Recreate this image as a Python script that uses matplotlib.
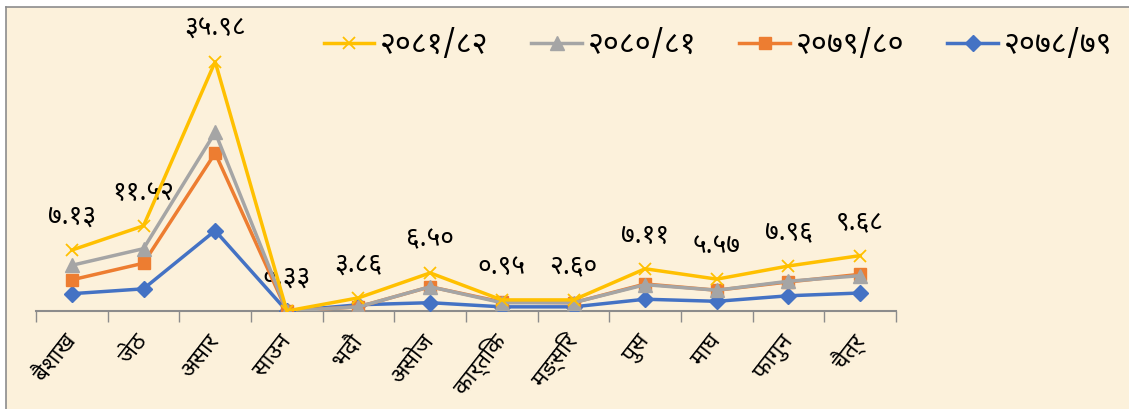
import matplotlib.pyplot as plt
from matplotlib.lines import Line2D

months = ['बैशाख', 'जेठ', 'असार', 'साउन', 'भदौ', 'असोज', 'कार्तिक',
          'मङ्सिर', 'पुस', 'माघ', 'फागुन', 'चैत्र']

# values (hidden y axis)
fy_8182 = [8.8, 12.3, 36.0, 0.0, 1.9, 5.5, 1.6, 1.6, 6.1, 4.6, 6.5, 8.0]
fy_8081 = [6.6, 9.0, 25.8, 0.0, 0.6, 3.5, 1.2, 1.2, 3.8, 3.0, 4.3, 5.1]
fy_7980 = [4.5, 6.9, 22.8, 0.0, 0.6, 3.5, 1.3, 1.2, 3.9, 3.0, 4.2, 5.3]
fy_7879 = [2.5, 3.2, 11.6, 0.0, 0.9, 1.2, 0.6, 0.6, 1.7, 1.4, 2.2, 2.6]

labels_8182 = ['७.१३', '११.५२', '३५.९८', '०.३३', '३.८६', '६.५०', '०.९५',
               '२.६०', '७.११', '५.५७', '७.९६', '९.६८']

series_names = ['२०८१/८२', '२०८०/८१', '२०७९/८०', '२०७८/७९']

plt.rcParams['font.family'] = ['Noto Sans Devanagari', 'DejaVu Sans']

bg = '#fcf1db'
fig = plt.figure(figsize=(11.29, 4.09), dpi=100, facecolor='white')
# parchment panel with a frame on top and left only
fig.patches.append(plt.Rectangle((6 / 1129, 0), 1, (409 - 7) / 409,
                                 transform=fig.transFigure, facecolor=bg,
                                 edgecolor='none', zorder=-10))
fig.add_artist(Line2D([6 / 1129, 1], [(409 - 7) / 409] * 2,
                      transform=fig.transFigure, color='#8c8c8c', lw=1.2))
fig.add_artist(Line2D([6 / 1129] * 2, [0, (409 - 7) / 409],
                      transform=fig.transFigure, color='#8c8c8c', lw=1.2))

ax = fig.add_axes([36 / 1129, (409 - 311) / 409, 860 / 1129, 277 / 409])
ax.set_facecolor('none')

x = list(range(len(months)))
ax.plot(x, fy_7879, color='#4472C4', lw=2.5, marker='D', ms=8, zorder=3)
ax.plot(x, fy_7980, color='#ED7D31', lw=2.5, marker='s', ms=9, zorder=4)
ax.plot(x, fy_8081, color='#A5A5A5', lw=2.5, marker='^', ms=9.5, zorder=5)
ax.plot(x, fy_8182, color='#FFC000', lw=2.5, marker='x', ms=9, mew=1.3, zorder=6)

for xi, yi, lab in zip(x, fy_8182, labels_8182):
    ax.annotate(lab, (xi, yi), xytext=(0, 24), textcoords='offset points',
                ha='center', va='center', fontsize=19)

ax.set_xlim(-0.5, 11.5)
ax.set_ylim(0, 40)
ax.set_yticks([])
for s in ['top', 'right', 'left']:
    ax.spines[s].set_visible(False)
ax.spines['bottom'].set_color('#8c8c8c')
ax.spines['bottom'].set_linewidth(1.5)

ax.set_xticks([i - 0.5 for i in range(13)])
ax.set_xticklabels([])
ax.tick_params(axis='x', which='major', length=8, color='#8c8c8c', width=1)
ax.set_xticks(x, minor=True)
ax.set_xticklabels(months, minor=True, rotation=52, ha='right', va='center',
                   rotation_mode='anchor', fontsize=16.5)
ax.tick_params(axis='x', which='minor', length=0, pad=19)

handles = [
    Line2D([], [], color='#FFC000', lw=2.5, marker='x', ms=9, mew=1.3),
    Line2D([], [], color='#A5A5A5', lw=2.5, marker='^', ms=9.5),
    Line2D([], [], color='#ED7D31', lw=2.5, marker='s', ms=9),
    Line2D([], [], color='#4472C4', lw=2.5, marker='D', ms=8),
]
fig.legend(handles, series_names, loc='center', ncol=4, frameon=False,
           bbox_to_anchor=(718 / 1129, (409 - 45) / 409), fontsize=22,
           handlelength=1.65, columnspacing=1.4, handletextpad=0.2)

fig.savefig('out.png', dpi=100, facecolor='white')
